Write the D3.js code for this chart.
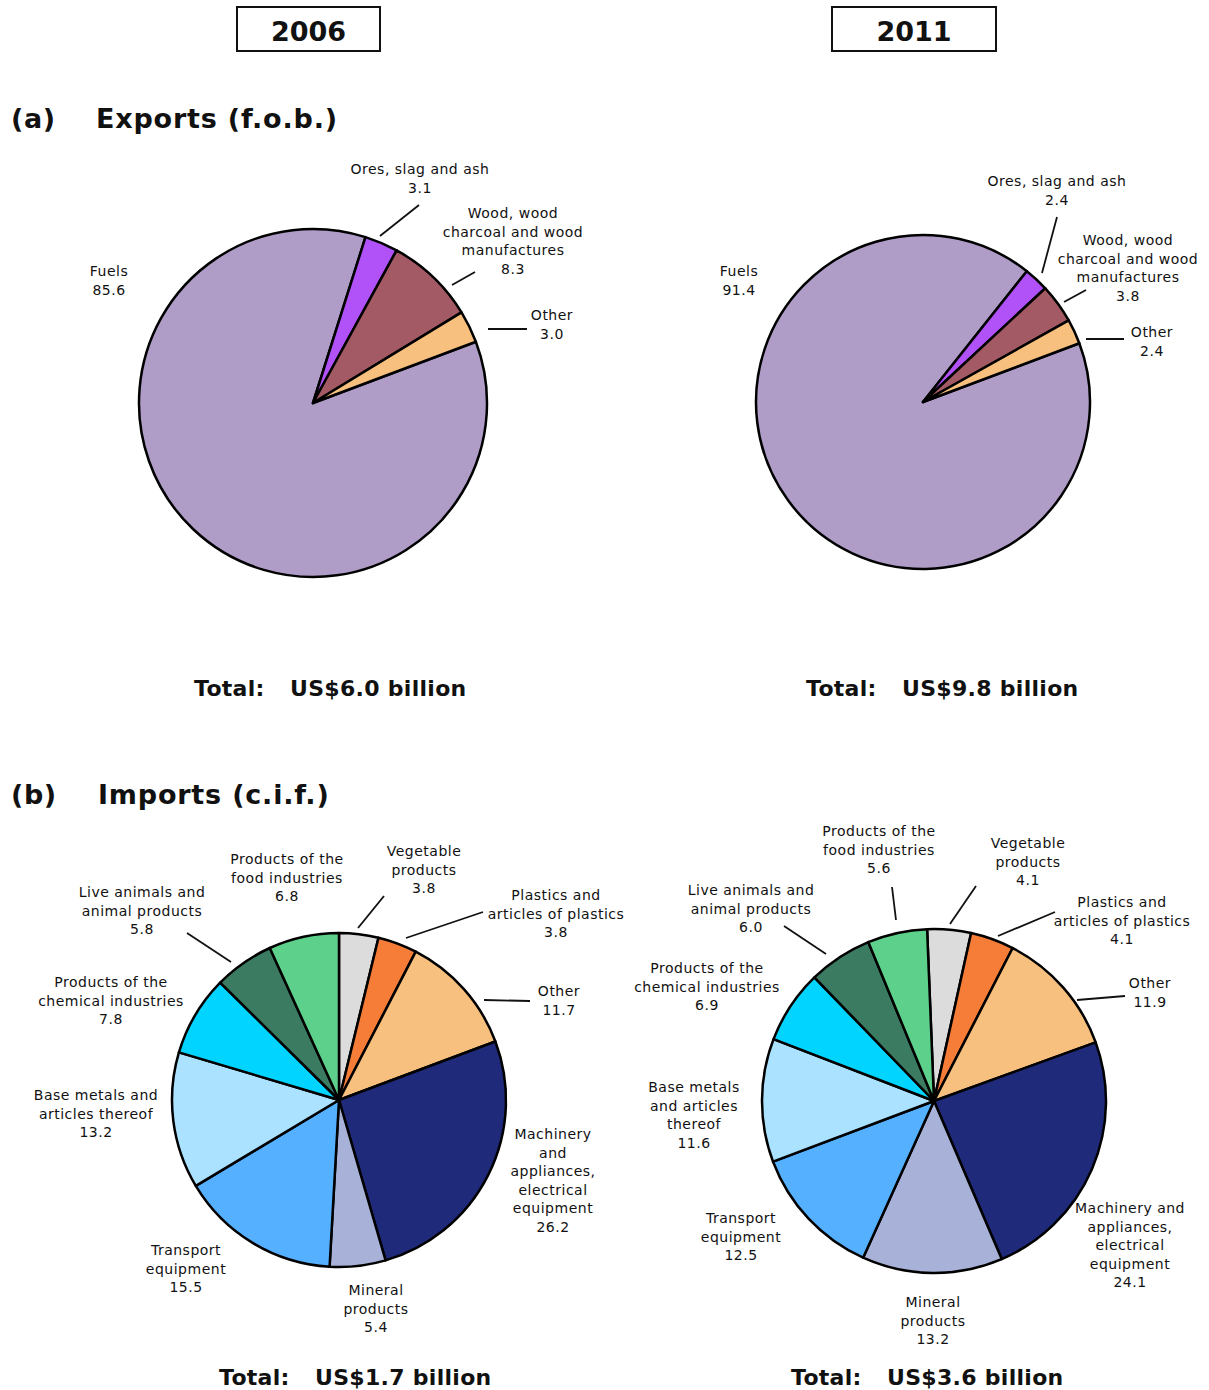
<!DOCTYPE html>
<html>
<head>
<meta charset="utf-8">
<script src="https://cdn.jsdelivr.net/npm/d3@7"></script>
<style>
  html, body { margin: 0; padding: 0; background: #fff; }
  svg { display: block; }
  text { font-family: "DejaVu Sans", Verdana, sans-serif; fill: #111; }
</style>
</head>
<body>
<svg id="chart" width="1209" height="1390"></svg>
<script>
// ---------------- DATA ----------------
const years = ["2006", "2011"];

const exportCategories = ["Fuels", "Ores, slag and ash", "Wood, wood charcoal and wood manufactures", "Other"];
const exports2006 = [85.6, 3.1, 8.3, 3.0];
const exports2011 = [91.4, 2.4, 3.8, 2.4];
const exportTotals = ["US$6.0 billion", "US$9.8 billion"];

const importCategories = [
  "Vegetable products",
  "Plastics and articles of plastics",
  "Other",
  "Machinery and appliances, electrical equipment",
  "Mineral products",
  "Transport equipment",
  "Base metals and articles thereof",
  "Products of the chemical industries",
  "Live animals and animal products",
  "Products of the food industries"
];
const imports2006 = [3.8, 3.8, 11.7, 26.2, 5.4, 15.5, 13.2, 7.8, 5.8, 6.8];
const imports2011 = [4.1, 4.1, 11.9, 24.1, 13.2, 12.5, 11.6, 6.9, 6.0, 5.6];
const importTotals = ["US$1.7 billion", "US$3.6 billion"];

const exportColors = ["#AF9DC8", "#B152F8", "#A35A64", "#F8C07E"];
const importColors = ["#DCDCDC", "#F57D38", "#F8C07E", "#1F2A7A", "#A8B2D8",
                      "#55B1FF", "#AAE2FF", "#00D4FF", "#3A7B62", "#5DD18B"];

// ---------------- LAYOUT ----------------
// label: [centerX, firstLineY, wordsPerLine, leader [x1,y1,x2,y2] or null]
const panels = [
  { cats: exportCategories, vals: exports2006, colors: exportColors, total: exportTotals[0],
    cx: 313, cy: 403, r: 174, start: 69.4, totalX: 194, totalY: 688,
    labels: [
      [109, 271, [1], null],
      [420, 169, [4], [380, 236, 419, 205]],
      [513, 213, [2, 3, 1], [452, 285, 475, 272]],
      [552, 315, [1], [488, 329, 527, 329]]
    ] },
  { cats: exportCategories, vals: exports2011, colors: exportColors, total: exportTotals[1],
    cx: 923, cy: 402, r: 167, start: 69.4, totalX: 806, totalY: 688,
    labels: [
      [739, 271, [1], null],
      [1057, 181, [4], [1042, 273, 1057, 217]],
      [1128, 240, [2, 3, 1], [1064, 302, 1086, 290]],
      [1152, 332, [1], [1086, 339, 1124, 339]]
    ] },
  { cats: importCategories, vals: imports2006, colors: importColors, total: importTotals[0],
    cx: 339, cy: 1100, r: 167, start: 0, totalX: 219, totalY: 1377,
    labels: [
      [424, 851, [1, 1], [358, 928, 384, 896]],
      [556, 895, [2, 3], [406, 938, 483, 912]],
      [559, 991, [1], [484, 1000, 530, 1001]],
      [553, 1134, [1, 1, 1, 1, 1], null],
      [376, 1290, [1, 1], null],
      [186, 1250, [1, 1], null],
      [96, 1095, [3, 2], null],
      [111, 982, [3, 2], null],
      [142, 892, [3, 2], [187, 933, 231, 962]],
      [287, 859, [3, 2], null]
    ] },
  { cats: importCategories, vals: imports2011, colors: importColors, total: importTotals[1],
    cx: 934, cy: 1101, r: 172, start: -2.3, totalX: 791, totalY: 1377,
    labels: [
      [1028, 843, [1, 1], [950, 924, 976, 886]],
      [1122, 902, [2, 3], [998, 936, 1055, 912]],
      [1150, 983, [1], [1077, 1000, 1125, 996]],
      [1130, 1208, [2, 1, 1, 1], null],
      [933, 1302, [1, 1], null],
      [741, 1218, [1, 1], null],
      [694, 1087, [2, 2, 1], null],
      [707, 968, [3, 2], null],
      [751, 890, [3, 2], [784, 926, 826, 954]],
      [879, 831, [3, 2], [896, 920, 892, 887]]
    ] }
];

const svg = d3.select("#chart");
const fmt = d3.format(".1f");
const rad = d => d * Math.PI / 180;
const lineH = 18.5;

// Year boxes
const yearBoxes = [{ x: 237, w: 143 }, { x: 832, w: 164 }];
years.forEach((y, i) => {
  const b = yearBoxes[i];
  svg.append("rect").attr("x", b.x).attr("y", 7).attr("width", b.w).attr("height", 44)
    .attr("fill", "#fff").attr("stroke", "#111").attr("stroke-width", 2);
  svg.append("text").attr("x", b.x + b.w / 2).attr("y", 31).attr("text-anchor", "middle")
    .attr("dominant-baseline", "central").style("font-weight", "bold").style("font-size", "27px")
    .text(y);
});

// Section headings
[["(a)", "Exports (f.o.b.)", 118, 96], ["(b)", "Imports (c.i.f.)", 794, 98]].forEach(h => {
  svg.append("text").attr("x", 11).attr("y", h[2]).attr("dominant-baseline", "central")
    .style("font-weight", "bold").style("font-size", "27px").style("letter-spacing", "0.6px").text(h[0]);
  svg.append("text").attr("x", h[3]).attr("y", h[2]).attr("dominant-baseline", "central")
    .style("font-weight", "bold").style("font-size", "27px").style("letter-spacing", "0.8px").text(h[1]);
});

panels.forEach(p => {
  const pie = d3.pie().sort(null).value(d => d)
    .startAngle(rad(p.start)).endAngle(rad(p.start + 360));
  const arc = d3.arc().innerRadius(0).outerRadius(p.r);
  const g = svg.append("g").attr("transform", `translate(${p.cx},${p.cy})`);
  g.selectAll("path").data(pie(p.vals)).join("path")
    .attr("d", arc)
    .attr("fill", (d, i) => p.colors[i])
    .attr("stroke", "#000").attr("stroke-width", 2.5).attr("stroke-linejoin", "round");

  // Labels
  p.cats.forEach((cat, i) => {
    const [lx, ly, wpl, leader] = p.labels[i];
    const words = cat.split(" ");
    const lines = [];
    let k = 0;
    wpl.forEach(n => { lines.push(words.slice(k, k + n).join(" ")); k += n; });
    lines.push(fmt(p.vals[i]));
    const t = svg.append("text").attr("text-anchor", "middle")
      .style("font-size", "14px").style("letter-spacing", "0.5px");
    lines.forEach((ln, j) => {
      t.append("tspan").attr("x", lx).attr("y", ly + j * lineH)
        .attr("dominant-baseline", "central").text(ln);
    });
    if (leader) {
      svg.append("line").attr("x1", leader[0]).attr("y1", leader[1])
        .attr("x2", leader[2]).attr("y2", leader[3])
        .attr("stroke", "#111").attr("stroke-width", 1.8);
    }
  });

  // Total
  const tt = svg.append("text").attr("x", p.totalX).attr("y", p.totalY)
    .attr("dominant-baseline", "central")
    .style("font-weight", "bold").style("font-size", "22px").style("letter-spacing", "0.3px");
  tt.append("tspan").text("Total:");
  tt.append("tspan").attr("x", p.totalX + 96).text(p.total);
});
</script>
</body>
</html>
